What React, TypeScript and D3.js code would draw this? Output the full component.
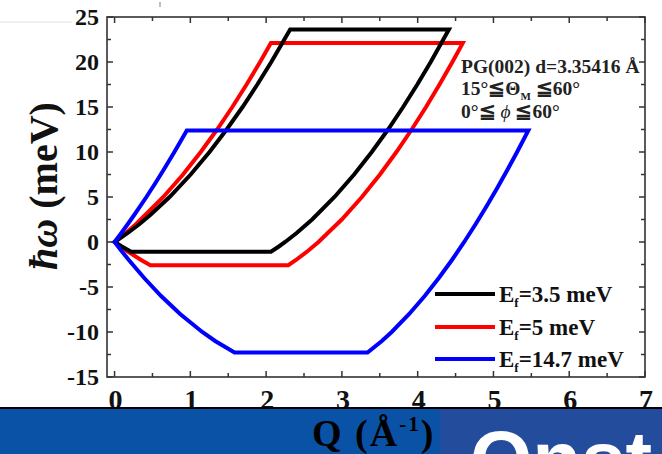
import React from "react";
import * as d3 from "d3";

// outlines of the accessible (Q, hbar-omega) region
const blackOutline: [number, number][] = [
  [0, 0], [0.174, 1], [0.33, 2], [0.471, 3], [0.726, 5], [1.004, 7.5], [1.253, 10],
  [1.479, 12.5], [1.689, 15], [1.884, 17.5], [2.068, 20], [2.317, 23.6],
  [4.412, 23.6], [4.172, 20], [3.995, 17.5], [3.808, 15], [3.609, 12.5], [3.394, 10],
  [3.161, 7.5], [2.902, 5], [2.607, 2.5], [2.403, 1], [2.251, 0], [2.168, -0.5], [2.064, -1.08],
  [0.219, -1.08], [0.096, -0.5], [0, 0],
];
const redOutline: [number, number][] = [
  [0, 0], [0.148, 1], [0.285, 2], [0.643, 5], [0.903, 7.5], [1.137, 10], [1.353, 12.5],
  [1.554, 15], [1.742, 17.5], [1.92, 20], [2.063, 22.1],
  [4.595, 22.1], [4.458, 20], [4.288, 17.5], [4.11, 15], [3.921, 12.5], [3.719, 10],
  [3.502, 7.5], [3.264, 5], [2.998, 2.5], [2.691, 0], [2.55, -1], [2.394, -2], [2.293, -2.58],
  [0.472, -2.58], [0.35, -2], [0.164, -1], [0, 0],
];
const blueOutline: [number, number][] = [
  [0, 0], [0.089, 1], [0.175, 2], [0.259, 3], [0.42, 5], [0.535, 6.5], [0.646, 8],
  [0.789, 10], [0.858, 11], [0.953, 12.4],
  [5.46, 12.4], [5.312, 10], [5.183, 8], [5.05, 6], [4.911, 4], [4.766, 2], [4.614, 0],
  [4.452, -2], [4.279, -4], [4.093, -6], [3.888, -8], [3.657, -10], [3.527, -11], [3.338, -12.28],
  [1.583, -12.28], [1.327, -11], [1.157, -10], [0.865, -8], [0.614, -6], [0.391, -4],
  [0.188, -2], [0.092, -1], [0, 0],
];

const legendValues = ["3.5", "5", "14.7"];
const seriesColors = ["#000000", "#ff0000", "#0000ff"];
const qTicks = [0, 1, 2, 3, 4, 5, 6, 7];
const qMinor = [0.5, 1.5, 2.5, 3.5, 4.5, 5.5, 6.5];
const wTicks = [-15, -10, -5, 0, 5, 10, 15, 20, 25];
const wMinor = [-12.5, -7.5, -2.5, 2.5, 7.5, 12.5, 17.5, 22.5];

const W = 662;
const H = 454;
const L = 107, R = 645, T = 17, B = 377;
const serif = "'Liberation Serif', 'Times New Roman', serif";

const x = d3.scaleLinear().domain([-0.1, 7]).range([L, R]);
const y = d3.scaleLinear().domain([-15, 25]).range([B, T]);
const line = d3.line<[number, number]>().x((d) => x(d[0])).y((d) => y(d[1]));

export default function App() {
  // red first, black over it, blue on top
  const drawn = [
    { pts: redOutline, color: seriesColors[1] },
    { pts: blackOutline, color: seriesColors[0] },
    { pts: blueOutline, color: seriesColors[2] },
  ];
  const axisColor = "#333";
  return (
    <svg
      width={W}
      height={H}
      style={{ position: "absolute", left: 0, top: 0, background: "#fff" }}
    >
      <line x1={0} x2={72} y1={22} y2={22} stroke="#e2e2e2" strokeWidth={1} />
      <line x1={160} x2={160} y1={2} y2={7} stroke="#aaa" strokeWidth={1.5} />

      {/* curves */}
      {drawn.map((s, i) => (
        <path
          key={i}
          d={line(s.pts) + "Z"}
          fill="none"
          stroke={s.color}
          strokeWidth={4}
          strokeLinejoin="miter"
        />
      ))}

      {/* frame */}
      <rect x={L} y={T} width={R - L} height={B - T} fill="none" stroke={axisColor} strokeWidth={1.6} />

      {/* ticks, all pointing inward */}
      {qTicks.map((q) => (
        <g key={"qt" + q}>
          <line x1={x(q)} x2={x(q)} y1={B} y2={B - 6} stroke={axisColor} strokeWidth={1.5} />
          <line x1={x(q)} x2={x(q)} y1={T} y2={T + 6} stroke={axisColor} strokeWidth={1.5} />
        </g>
      ))}
      {qMinor.map((q) => (
        <g key={"qm" + q}>
          <line x1={x(q)} x2={x(q)} y1={B} y2={B - 4} stroke={axisColor} strokeWidth={1.5} />
          <line x1={x(q)} x2={x(q)} y1={T} y2={T + 4} stroke={axisColor} strokeWidth={1.5} />
        </g>
      ))}
      {wTicks.map((w) => (
        <g key={"wt" + w}>
          <line x1={L} x2={L + 6} y1={y(w)} y2={y(w)} stroke={axisColor} strokeWidth={1.5} />
          <line x1={R} x2={R - 6} y1={y(w)} y2={y(w)} stroke={axisColor} strokeWidth={1.5} />
        </g>
      ))}
      {wMinor.map((w) => (
        <g key={"wm" + w}>
          <line x1={L} x2={L + 4} y1={y(w)} y2={y(w)} stroke={axisColor} strokeWidth={1.5} />
          <line x1={R} x2={R - 4} y1={y(w)} y2={y(w)} stroke={axisColor} strokeWidth={1.5} />
        </g>
      ))}

      {/* y tick labels */}
      {wTicks.map((w) => (
        <text
          key={"wl" + w}
          x={L - 8}
          y={y(w) + 8}
          textAnchor="end"
          fontFamily={serif}
          fontWeight="bold"
          fontSize={24}
          fill="#111"
        >
          {w}
        </text>
      ))}
      {/* x tick labels */}
      {qTicks.map((q) => (
        <text
          key={"ql" + q}
          x={x(q) + 1}
          y={409}
          textAnchor="middle"
          fontFamily={serif}
          fontWeight="bold"
          fontSize={28}
          fill="#111"
        >
          {q}
        </text>
      ))}

      {/* y axis title */}
      <text
        transform={`translate(57, 186) rotate(-90)`}
        textAnchor="middle"
        fontFamily={serif}
        fontWeight="bold"
        fontSize={40}
        fill="#111"
      >
        <tspan fontStyle="italic">ħω</tspan>
        <tspan> (meV)</tspan>
      </text>

      {/* annotation */}
      <g fontFamily={serif} fontWeight="bold" fontSize={19.5} fill="#222">
        <text x={461} y={73}>PG(002) d=3.35416 Å</text>
        <text x={461} y={95}>
          15°≦Θ<tspan fontSize={11} dy={5}>M</tspan>
          <tspan dy={-5}> ≦60°</tspan>
        </text>
        <text x={461} y={118}>
          0°≦ <tspan fontStyle="italic" fontWeight="normal">ϕ</tspan> ≦60°
        </text>
      </g>

      {/* legend */}
      {legendValues.map((v, i) => {
        const ly = [294, 327, 359][i];
        return (
          <g key={"lg" + v}>
            <line x1={435} x2={495} y1={ly} y2={ly} stroke={seriesColors[i]} strokeWidth={4} />
            <text x={499} y={ly + 8} fontFamily={serif} fontWeight="bold" fontSize={23} fill="#111">
              E<tspan fontSize={13} dy={5}>f</tspan>
              <tspan dy={-5}>={v} meV</tspan>
            </text>
          </g>
        );
      })}

      {/* banner at the bottom */}
      <rect x={0} y={408} width={440} height={H - 408} fill="#0a52a5" />
      <rect x={440} y={408} width={W - 440} height={H - 408} fill="#234c9c" />
      <line x1={0} x2={W} y1={408} y2={408} stroke="#000" strokeWidth={1.8} />
      <text
        x={470}
        y={487}
        fontFamily="'Liberation Sans', Arial, sans-serif"
        fontWeight="bold"
        fontSize={80}
        fill="#fff"
      >
        Onst
      </text>
      <text x={312} y={446} fontFamily={serif} fontWeight="bold" fontSize={38} letterSpacing={2} fill="#000">
        Q (Å<tspan fontSize={21} dy={-15}>-1</tspan>
        <tspan dy={15}>)</tspan>
      </text>
    </svg>
  );
}
